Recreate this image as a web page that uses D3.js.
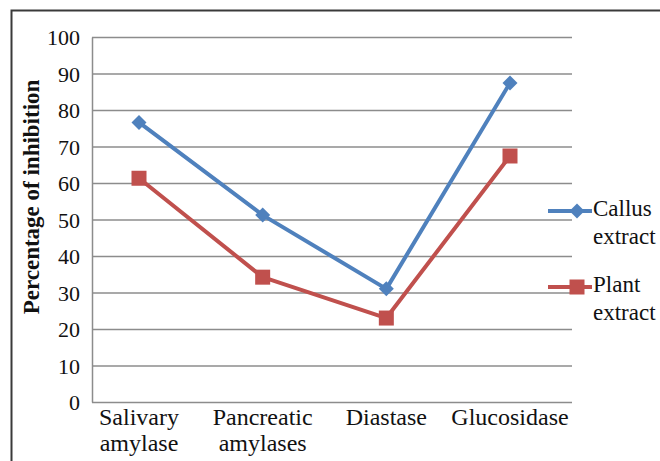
<!DOCTYPE html>
<html>
<head>
<meta charset="UTF-8">
<title>Inhibition chart</title>
<script src="https://cdnjs.cloudflare.com/ajax/libs/d3/7.8.5/d3.min.js"></script>
<style>
    body { margin:0; background:#fff; }
    .tick text {
        font-family: 'Liberation Serif', serif;
        font-size: 22px;
        fill: #111;
    }
    .cat {
        font-family: 'Liberation Serif', serif;
        font-size: 24px;
        fill: #111;
    }
    .leyenda {
        font-family: 'Liberation Serif', serif;
        font-size: 23px;
        fill: #111;
    }
    .titulo {
        font-family: 'Liberation Serif', serif;
        font-size: 23px;
        font-weight: bold;
        fill: #111;
    }
</style>
</head>
<body>
<div id="grafico"></div>
<script>
var categorias = [["Salivary", "amylase"], ["Pancreatic", "amylases"], ["Diastase"], ["Glucosidase"]];
var callus = [76.6, 51.2, 31, 87.4];
var plant = [61.3, 34.2, 23, 67.4];
var yTicks = [0, 10, 20, 30, 40, 50, 60, 70, 80, 90, 100];
var series = [
    {name: ["Callus", "extract"], values: callus, color: "#4F81BD", marker: "diamond"},
    {name: ["Plant", "extract"], values: plant, color: "#C0504D", marker: "square"}
];

var w = 660, h = 461;
var izq = 92, der = 572, arriba = 37, abajo = 402;

var svg = d3.select("#grafico").append("svg")
    .attr("width", w).attr("height", h);

// marco
svg.append("path")
    .attr("d", "M11.5," + h + " V10.5 H" + w)
    .attr("fill", "none").attr("stroke", "#3a3a3a").attr("stroke-width", 2);

var xScale = d3.scalePoint()
    .domain(d3.range(categorias.length))
    .range([izq + 47, der - 62]);

var yScale = d3.scaleLinear().domain([0, 100]).range([abajo, arriba]);

// rejilla
svg.append("g").selectAll("line")
    .data(yTicks)
    .enter().append("line")
    .attr("x1", izq).attr("x2", der)
    .attr("y1", function(d){ return yScale(d) + 0.5; })
    .attr("y2", function(d){ return yScale(d) + 0.5; })
    .attr("stroke", "#8c8c8c").attr("stroke-width", 1.5);

var ejeY = svg.append("g")
    .attr("transform", "translate(" + izq + ",0)")
    .call(d3.axisLeft(yScale).tickValues(yTicks).tickSize(0).tickPadding(12));
ejeY.select(".domain").attr("stroke", "#8c8c8c").attr("stroke-width", 1.5);
ejeY.selectAll(".tick text").attr("dy", "0.36em");

// categorias
var cats = svg.append("g").selectAll("text")
    .data(categorias)
    .enter().append("text")
    .attr("class", "cat")
    .attr("text-anchor", "middle")
    .attr("x", function(d, i){ return xScale(i); })
    .attr("y", 425);
cats.selectAll("tspan")
    .data(function(d){ return d; })
    .enter().append("tspan")
    .attr("x", function(){ return d3.select(this.parentNode).attr("x"); })
    .attr("dy", function(d, i){ return i ? 26 : 0; })
    .text(function(d){ return d; });

svg.append("text")
    .attr("class", "titulo")
    .attr("text-anchor", "middle")
    .attr("transform", "translate(39,197) rotate(-90)")
    .text("Percentage of inhibition");

var linea = d3.line()
    .x(function(d, i){ return xScale(i); })
    .y(function(d){ return yScale(d); });

function marcador(g, tipo, color, x, y) {
    if (tipo == "diamond") {
        g.append("path")
            .attr("d", "M" + x + "," + (y - 7.5) + " L" + (x + 7.5) + "," + y + " L" + x + "," + (y + 7.5) + " L" + (x - 7.5) + "," + y + "Z")
            .attr("fill", color);
    } else {
        g.append("rect")
            .attr("x", x - 7.5).attr("y", y - 7.5)
            .attr("width", 15).attr("height", 15)
            .attr("fill", color);
    }
}

series.forEach(function(s, k){
    var g = svg.append("g");
    g.append("path")
        .datum(s.values)
        .attr("d", linea)
        .attr("fill", "none")
        .attr("stroke", s.color)
        .attr("stroke-width", 4)
        .attr("stroke-linejoin", "round");
    s.values.forEach(function(v, i){
        marcador(g, s.marker, s.color, xScale(i), yScale(v));
    });

    // leyenda
    var ly = 211 + k * 76;
    g.append("line")
        .attr("x1", 548).attr("x2", 592)
        .attr("y1", ly).attr("y2", ly)
        .attr("stroke", s.color).attr("stroke-width", 4);
    marcador(g, s.marker, s.color, 577, ly);
    var t = g.append("text").attr("class", "leyenda")
        .attr("x", 593).attr("y", ly + 5);
    t.selectAll("tspan").data(s.name).enter().append("tspan")
        .attr("x", 593)
        .attr("dy", function(d, i){ return i ? 28 : 0; })
        .text(function(d){ return d; });
});
</script>
</body>
</html>
